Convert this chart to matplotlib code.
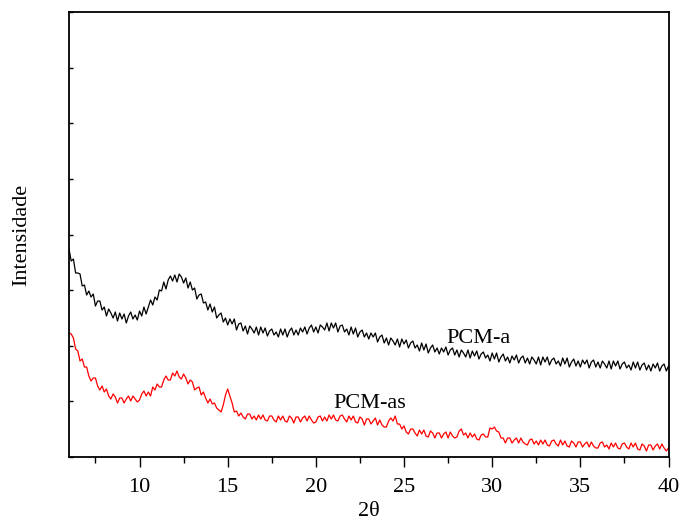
import numpy as np
import matplotlib
matplotlib.use("Agg")
import matplotlib.pyplot as plt
from matplotlib.ticker import MultipleLocator

# 2-theta grid (degrees), step 0.125 from 6 to 40
two_theta = np.arange(6.0, 40.001, 0.125)

# PCM-a intensity (arbitrary units), one row per degree (6..39) + value at 40
pcm_a = [
    208, 196, 198, 184, 184, 183, 171, 172,
    162, 166, 160, 163, 151, 156, 156, 147,
    150, 141, 148, 144, 139, 145, 136, 144,
    138, 143, 134, 141, 145, 138, 142, 137,
    146, 141, 150, 143, 150, 157, 152, 160,
    157, 167, 166, 175, 168, 177, 181, 176,
    182, 175, 183, 180, 174, 179, 169, 175,
    167, 169, 158, 162, 163, 154, 155, 147,
    153, 145, 150, 139, 142, 144, 135, 139,
    132, 138, 133, 138, 127, 133, 134, 126,
    131, 123, 131, 128, 124, 130, 122, 130,
    124, 129, 121, 126, 128, 122, 125, 120,
    128, 122, 128, 120, 126, 129, 122, 127,
    122, 129, 125, 130, 123, 129, 132, 125,
    130, 124, 132, 130, 127, 134, 126, 134,
    129, 134, 125, 131, 132, 125, 128, 122,
    130, 123, 129, 120, 125, 127, 120, 124,
    118, 124, 120, 124, 115, 120, 122, 114,
    119, 112, 119, 116, 112, 118, 110, 118,
    113, 117, 109, 114, 116, 109, 112, 106,
    114, 107, 113, 104, 109, 112, 105, 109,
    103, 109, 105, 110, 102, 107, 109, 102,
    107, 100, 107, 104, 100, 107, 99, 106,
    101, 106, 98, 103, 105, 99, 102, 96,
    104, 98, 104, 95, 100, 103, 96, 100,
    94, 101, 97, 102, 94, 99, 101, 94,
    99, 93, 100, 97, 93, 100, 92, 100,
    95, 100, 92, 97, 99, 93, 96, 91,
    99, 93, 99, 90, 95, 98, 91, 96,
    90, 97, 93, 97, 89, 95, 97, 90,
    95, 89, 96, 93, 89, 96, 88, 96,
    91, 96, 88, 93, 95, 89, 92, 87,
    95, 89, 95, 87, 92, 94, 87, 92,
    86, 93, 89, 94, 86, 91, 93, 86,
    91,
]

# PCM-as intensity (arbitrary units), one row per degree (6..39) + value at 40
pcm_as = [
    124, 123, 119, 108, 106, 96, 98, 90,
    90, 81, 76, 79, 79, 71, 67, 71,
    65, 68, 61, 58, 63, 60, 54, 59,
    59, 54, 58, 61, 56, 61, 58, 55,
    57, 63, 66, 61, 65, 61, 70, 67,
    73, 70, 70, 77, 81, 77, 77, 84,
    81, 86, 80, 78, 83, 79, 73, 77,
    75, 67, 69, 70, 62, 65, 59, 54,
    58, 53, 54, 49, 47, 45, 52, 62,
    68, 61, 54, 45, 46, 41, 44, 40,
    38, 43, 43, 38, 41, 37, 42, 38,
    42, 37, 36, 41, 41, 37, 35, 41,
    37, 41, 36, 35, 41, 39, 34, 40,
    40, 35, 39, 41, 36, 41, 37, 34,
    35, 40, 41, 36, 40, 36, 42, 38,
    42, 37, 36, 41, 42, 38, 35, 41,
    37, 41, 35, 34, 40, 38, 32, 38,
    38, 33, 36, 39, 32, 37, 32, 30,
    30, 36, 39, 36, 41, 33, 33, 28,
    31, 25, 23, 28, 28, 24, 21, 27,
    23, 27, 21, 20, 26, 24, 19, 24,
    24, 19, 23, 25, 19, 25, 21, 19,
    20, 26, 28, 22, 24, 19, 24, 20,
    23, 18, 17, 22, 23, 20, 20, 29,
    28, 30, 26, 25, 19, 19, 14, 19,
    19, 14, 17, 19, 14, 19, 15, 13,
    12, 17, 18, 13, 16, 12, 17, 13,
    17, 12, 11, 16, 17, 13, 11, 17,
    12, 16, 11, 10, 16, 14, 10, 15,
    15, 10, 13, 15, 10, 15, 11, 9,
    9, 14, 15, 10, 12, 8, 14, 10,
    14, 9, 8, 13, 14, 10, 8, 14,
    10, 14, 8, 7, 13, 11, 6, 12,
    12, 7, 11, 13, 8, 13, 9, 6,
    9,
]

x_ticks = [10, 15, 20, 25, 30, 35, 40]
series_labels = ["PCM-a", "PCM-as"]

plt.rcParams["font.family"] = ["Liberation Serif", "DejaVu Serif"]

fig = plt.figure(figsize=(6.8, 5.2), dpi=100)
ax = fig.add_axes([0.10147, 0.12115, 0.88162, 0.85577])

ax.plot(two_theta, pcm_a, color="black", lw=0.9)
ax.plot(two_theta, pcm_as, color="#ff0000", lw=0.9)

ax.set_xlim(6, 40)
ax.set_ylim(0, 445)
ax.set_xticks(x_ticks)
ax.xaxis.set_minor_locator(MultipleLocator(2.5))
ax.yaxis.set_major_locator(MultipleLocator(445 / 8))
ax.tick_params(axis="x", which="major", direction="out", length=7, width=1.0,
               labelsize=16, pad=8)
ax.tick_params(axis="x", which="minor", direction="out", length=4, width=1.0)
ax.tick_params(axis="y", which="major", direction="in", length=3, width=1.0,
               labelleft=False)
for s in ax.spines.values():
    s.set_linewidth(1.3)

ax.text(27.4, 114, series_labels[0], fontsize=16, ha="left", va="baseline")
ax.text(20.97, 49, series_labels[1], fontsize=16, ha="left", va="baseline")

ax.set_xlabel("2θ", fontsize=16)
ax.xaxis.set_label_coords(0.5, -0.1)
ax.set_ylabel("Intensidade", fontsize=16)
ax.yaxis.set_label_coords(-0.063, 0.5)

fig.savefig("out.png", dpi=100)
